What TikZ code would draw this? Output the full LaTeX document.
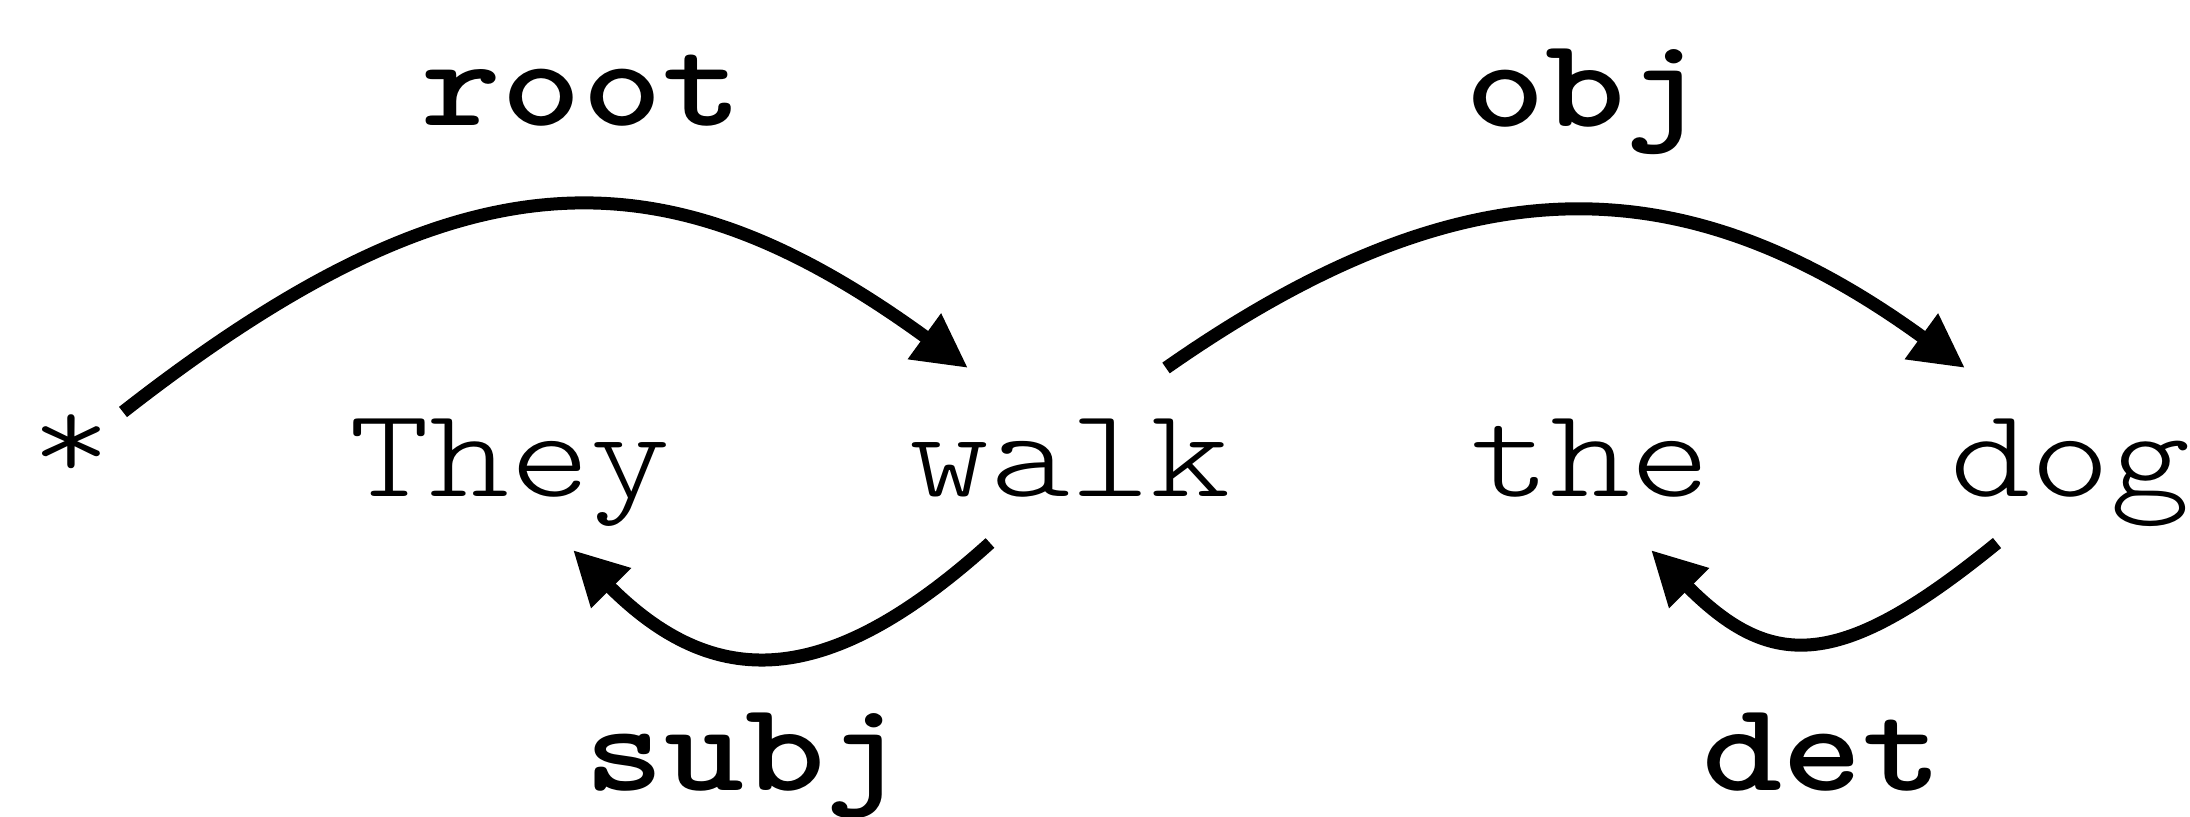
\documentclass[tikz,border=0pt]{standalone}
\usepackage{fontspec}
\newfontfamily\wordfam[FakeStretch=1.2, BoldFont=lmmonolt10-bold.otf]{lmmonolt10-regular.otf}
\usetikzlibrary{arrows.meta}
\newcommand\wordfont{\wordfam\fontsize{63.5pt}{76pt}\selectfont}
\newcommand\labfont{\wordfam\bfseries\fontsize{63.5pt}{76pt}\selectfont}
\begin{document}
\begin{tikzpicture}[x=0.5pt,y=-0.5pt,
  word/.style={font=\wordfont, inner sep=0pt, anchor=base},
  lab/.style={font=\labfont, inner sep=0pt, anchor=base},
  dep/.style={line width=6.5pt, -{Triangle[length=27pt,width=26.5pt]}}]
\useasboundingbox (0,0) rectangle (2190,817);
% words
\node[word] (star) at (72,481) {*};
\node[word] (they) at (510,497) {They};
\node[word] (walk) at (1070,497) {walk};
\node[word] (the)  at (1590,497) {the};
\node[word] (dog)  at (2070,497) {dog};
% labels
\node[lab] (lroot) at (582,126) {root};
\node[lab] (lobj)  at (1585,127) {obj};
\node[lab] (lsubj) at (745,790) {subj};
\node[lab] (ldet)  at (1822,790) {det};
% arcs
\draw[dep] ([shift={(51,-69)}]star.base) .. controls (462,147) and (664,147) .. ([shift={(-102,-129)}]walk.base);
\draw[dep] ([shift={(96,-129)}]walk.base) .. controls (1462,161) and (1680,161) .. ([shift={(-105,-129)}]dog.base);
\draw[dep] ([shift={(-80,46)}]walk.base) .. controls (826,691) and (714,691) .. ([shift={(63,53)}]they.base);
\draw[dep] ([shift={(-73,46)}]dog.base) .. controls (1840,671) and (1772,671) .. ([shift={(61,53)}]the.base);
\end{tikzpicture}
\end{document}
